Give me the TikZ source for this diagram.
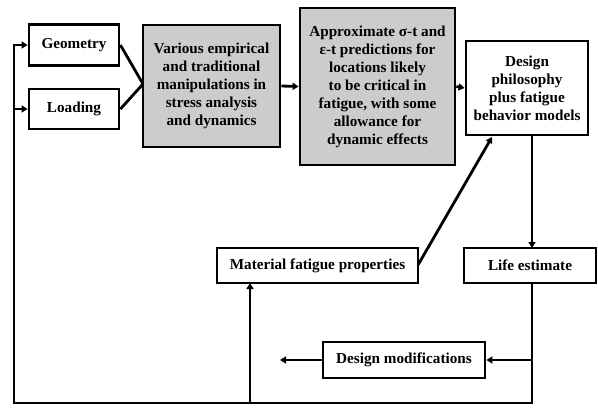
\documentclass[tikz,border=0pt]{standalone}
\usepackage{fontspec}
\setmainfont{Liberation Serif}
\usetikzlibrary{arrows.meta}
\definecolor{boxgray}{RGB}{204,204,204}
\begin{document}
\begin{tikzpicture}[x=1pt,y=-1pt,
  box/.style={draw=black,line width=2.8pt,fill=white,align=center,inner sep=2pt,font=\fontsize{15.2}{18}\selectfont\bfseries},
  graybox/.style={box,fill=boxgray},
  conn/.style={line width=2.8pt,-{Triangle[length=6pt,width=7pt]}},
  plain/.style={line width=2.8pt}]
\useasboundingbox (0,0) rectangle (598,408);
\node[box,minimum width=90pt,minimum height=41pt] (geo) at (74,45) {Geometry};
\node[box,minimum width=90pt,minimum height=40pt] (load) at (74,109) {Loading};
\node[graybox,minimum width=137pt,minimum height=122pt] (g1) at (211.5,86) {Various empirical\\and traditional\\manipulations in\\stress analysis\\and dynamics};
\node[graybox,minimum width=155pt,minimum height=157pt] (g2) at (377.5,86.5) {Approximate σ-t and\\ε-t predictions for\\locations likely\\to be critical in\\fatigue, with some\\allowance for\\dynamic effects};
\node[box,minimum width=122pt,minimum height=94pt] (des) at (527,88) {Design\\philosophy\\plus fatigue\\behavior models};
\node[box,minimum width=201pt,minimum height=35pt] (mat) at (317.5,265.5) {Material fatigue properties};
\node[box,minimum width=132pt,minimum height=35pt] (life) at (530,265.5) {Life estimate};
\node[box,minimum width=162pt,minimum height=36pt] (dm) at (404,360) {Design modifications};
\coordinate (conv) at (143,84);
\coordinate (dtop) at (532,135);
\coordinate (ltop) at (532,248);
\coordinate (lbot) at (532,283);
\coordinate (br) at (532,403);
\coordinate (bl) at (14,403);
\coordinate (tl) at (14,45);
\coordinate (mid) at (14,109);
\coordinate (mb) at (250,403);
\coordinate (mtop) at (250,283);
\coordinate (dmr) at (532,360);
\coordinate (dmend) at (280,360);
\coordinate (matr) at (418,265);
\coordinate (desbl) at (492,137);
\draw[plain] (geo.east) -- (conv);
\draw[plain] (load.east) -- (conv);
\draw[conn] (g1.east) -- (g2.west);
\draw[conn] (g2.east) -- (des.west);
\draw[conn] (dtop) -- (ltop);
\draw[conn] (matr) -- (desbl);
\draw[conn] (lbot) -- (br) -- (bl) -- (tl) -- (geo.west);
\draw[conn] (mid) -- (load.west);
\draw[conn] (mb) -- (mtop);
\draw[conn] (dmr) -- (dm.east);
\draw[conn] (dm.west) -- (dmend);
\end{tikzpicture}
\end{document}
